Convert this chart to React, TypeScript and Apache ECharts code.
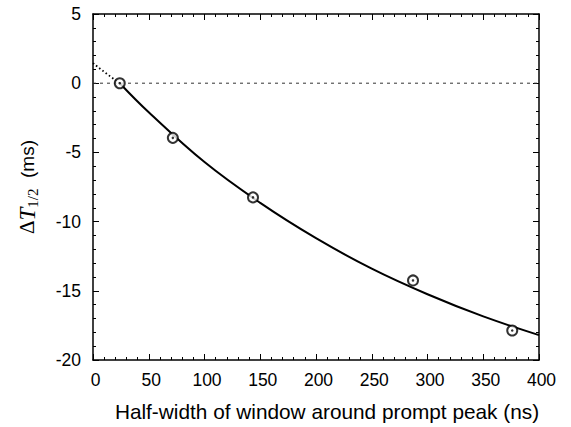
import React, { useEffect, useRef } from 'react';
import * as echarts from 'echarts';

const pointX = [24, 71.6, 143.5, 287, 376];
const pointY = [0, -3.95, -8.25, -14.25, -17.87];
const fitX = [24, 50, 100, 150, 200, 250, 300, 350, 400];
const fitY = [0, -2.1, -5.7, -8.65, -11.2, -13.4, -15.25, -16.85, -18.2];
const extX = [0, 12, 24];
const extY = [1.45, 0.7, 0];
const zeroX = [0, 400];
const zeroY = [0, 0];
const xRange = [0, 400, 50];
const yRange = [-20, 5, 5];

const zip = (a: number[], b: number[]) => a.map((v, i) => [v, b[i]]);

const SANS = 'Liberation Sans, Arial, sans-serif';
const SERIF = 'Liberation Serif, Times New Roman, serif';

export default function App() {
  const ref = useRef<HTMLDivElement>(null);
  useEffect(() => {
    if (!ref.current) return;
    const chart = echarts.init(ref.current, null, { renderer: 'svg' });
    const axisLine = { show: true, onZero: false, lineStyle: { color: '#000', width: 1.5 } };
    const tick = { show: true, inside: true, length: 6, lineStyle: { color: '#000', width: 1 } };
    const minor = { show: true, splitNumber: 5, length: 3, lineStyle: { color: '#000', width: 1 } };
    const xBase = { type: 'value', min: xRange[0], max: xRange[1], interval: xRange[2], splitLine: { show: false }, axisLine, axisTick: tick, minorTick: minor };
    const yBase = { type: 'value', min: yRange[0], max: yRange[1], interval: yRange[2], splitLine: { show: false }, axisLine, axisTick: tick, minorTick: minor };
    chart.setOption({
      animation: false,
      backgroundColor: '#fff',
      grid: { left: 93, top: 14, width: 446, height: 352, containLabel: false },
      xAxis: [
        {
          ...xBase,
          position: 'bottom',
          axisLabel: { color: '#000', fontSize: 17.5, fontFamily: SANS, margin: 11, padding: [0, 0, 0, 5] },
          name: 'Half-width of window around prompt peak (ns)',
          nameLocation: 'middle',
          nameGap: 41,
          nameTextStyle: { color: '#000', fontSize: 20.8, fontFamily: SANS, padding: [0, 0, 0, 22] },
        },
        { ...xBase, position: 'top', axisLabel: { show: false } },
      ],
      yAxis: [
        {
          ...yBase,
          position: 'left',
          axisLabel: { color: '#000', fontSize: 17.5, fontFamily: SANS, margin: 12 },
          name: '{d|Δ}{t|T}{s|1/2}{m|  (ms)}',
          nameLocation: 'middle',
          nameRotate: 90,
          nameGap: 53,
          nameTextStyle: {
            color: '#000',
            rich: {
              d: { fontFamily: SERIF, fontSize: 21, color: '#000', lineHeight: 26, verticalAlign: 'middle' },
              t: { fontFamily: SERIF, fontStyle: 'italic', fontSize: 23, color: '#000', lineHeight: 26, verticalAlign: 'middle' },
              s: { fontFamily: SERIF, fontSize: 15, color: '#000', lineHeight: 26, verticalAlign: 'bottom', padding: [9, 0, 0, 0] },
              m: { fontFamily: SANS, fontSize: 19, color: '#000', lineHeight: 26, verticalAlign: 'middle' },
            },
          },
        },
        { ...yBase, position: 'right', axisLabel: { show: false } },
      ],
      series: [
        {
          type: 'line',
          data: zip(zeroX, zeroY),
          symbol: 'none',
          lineStyle: { color: '#333', width: 1, type: [3, 4] },
          z: 1,
        },
        {
          type: 'line',
          data: zip(extX, extY),
          symbol: 'none',
          smooth: true,
          lineStyle: { color: '#000', width: 1.8, type: [1.5, 2.5] },
          z: 2,
        },
        {
          type: 'line',
          data: zip(fitX, fitY),
          symbol: 'none',
          smooth: 0.4,
          lineStyle: { color: '#000', width: 2 },
          z: 3,
        },
        {
          type: 'scatter',
          data: zip(pointX, pointY),
          symbol: 'circle',
          symbolSize: 10,
          itemStyle: { color: '#fff', borderColor: '#000', borderWidth: 2 },
          z: 4,
        },
        {
          type: 'scatter',
          data: zip(pointX, pointY),
          symbol: 'circle',
          symbolSize: 2.5,
          itemStyle: { color: '#000' },
          z: 5,
        },
      ],
    });
    return () => chart.dispose();
  }, []);
  return <div ref={ref} style={{ position: 'fixed', left: 0, top: 0, width: 571, height: 427 }} />;
}
